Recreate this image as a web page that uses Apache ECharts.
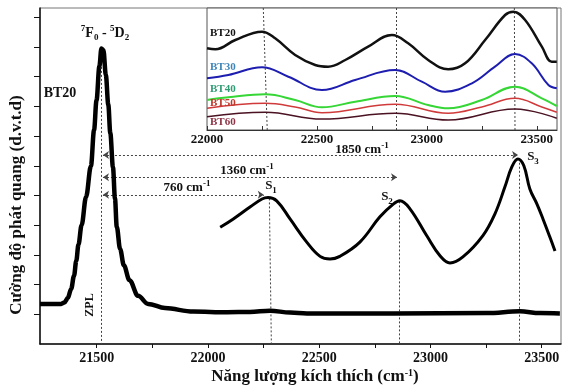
<!DOCTYPE html>
<html><head><meta charset="utf-8">
<script src="https://cdn.jsdelivr.net/npm/echarts@6/dist/echarts.min.js"></script>
<style>html,body{margin:0;padding:0;background:#fff}#c{width:570px;height:389px}</style>
</head><body><div id="c"></div>
<script>
// ---- data ----
const mainEnergy = [21245,21340,21355,21370,21385,21398,21408,21418,21432,21452,21474,21488,21499,21512,21521,21530,21541,21552,21561,21573,21582,21590,21605,21622,21647,21686,21731,21807,21933,22086,22189,22279,22369,22445,22832,23254,23402,23492,23582];
const mainIntensity = [1.35,1.35,1.4,1.55,1.85,2.3,2.8,3.35,4.0,4.95,5.99,7.2,8.2,9.35,9.95,9.9,9.05,8.05,7.1,5.95,4.9,3.95,3.2,2.65,2.15,1.62,1.35,1.21,1.09,1.07,1.08,1.12,1.06,1.03,1.03,1.04,1.10,1.04,1.03];
const excEnergy = [22055,22114,22189,22243,22270,22309,22369,22444,22504,22549,22593,22683,22773,22833,22863,22908,22983,23043,23088,23146,23236,23290,23335,23366,23393,23420,23447,23479,23506,23537,23560];
const excIntensity = [3.93,4.21,4.61,4.88,4.93,4.82,4.21,3.43,2.95,2.86,2.95,3.43,4.28,4.71,4.82,4.55,3.65,2.97,2.73,2.93,3.65,4.38,5.29,5.96,6.23,6.0,5.22,4.71,4.21,3.6,3.13];

const bt20X = [22000,22038,22129,22250,22310,22401,22492,22551,22629,22733,22841,22915,23006,23097,23174,23265,23356,23394,23447,23523,23568,23591];
const bt20Y = [8.17,8.07,9.0,9.83,9.17,7.5,6.5,6.33,7.0,8.33,9.5,8.67,7.0,6.07,6.67,9.0,11.5,11.83,11.0,8.33,6.83,6.83];
const bt30X = [22000,22097,22250,22370,22523,22674,22856,22977,23083,23205,23310,23401,23477,23553,23591];
const bt30Y = [5.17,5.5,6.27,5.33,4.0,5.0,6.0,4.83,3.83,4.67,6.33,7.6,6.67,4.5,4.17];
const bt40X = [22000,22097,22265,22401,22523,22674,22856,23006,23097,23250,23401,23523,23591];
const bt40Y = [3.0,3.27,3.57,3.0,2.27,2.83,3.4,2.5,2.17,3.0,4.33,3.17,2.4];
const bt50X = [22000,22265,22401,22523,22856,23097,23250,23401,23523,23591];
const bt50Y = [2.17,2.67,2.3,1.73,2.57,1.67,2.3,3.17,2.3,1.77];
const bt60X = [22000,22265,22523,22856,23097,23401,23591];
const bt60Y = [1.33,1.77,1.1,1.67,1.0,2.1,1.17];

const zplEnergy = 21519, zplTop = 10.0;
const peakLineTopX = [22276, 22859, 23399];
const peakLineBottomX = [22285, 22859, 23399];
const peakLineTopY = [4.9, 4.8, 6.1];
const insetLineTopX = [22256, 22860, 23398];
const insetLineBottomX = [22274, 22860, 23401];
const shiftLabels = ['760', '1360', '1850'];
const arrowStartX = 21528;
const arrowEndX = [22251, 22850, 23394];
const arrowLevel = [5.02, 5.61, 6.36];

const mainTicks = [21500,21750,22000,22250,22500,22750,23000,23250,23500];
const mainLabels = [21500,22000,22500,23000,23500];
const insetTicks = [22000,22250,22500,22750,23000,23250,23500];
const insetLabels = [22000,22500,23000,23500];
const yTicks = [1,2,3,4,5,6,7,8,9,10,11];

// ---- chart ----
const zip = (xs, ys) => xs.map((x, i) => [x, ys[i]]);
const FONT = '"Liberation Serif", "Times New Roman", serif';
const chart = echarts.init(document.getElementById('c'), null, {renderer: 'canvas'});

const vLines = peakLineTopX.map((x, i) => [
  {coord: [x, peakLineTopY[i]], symbol: 'none'},
  {coord: [peakLineBottomX[i], 0], symbol: 'none'}
]);
vLines.push([{coord: [zplEnergy, zplTop], symbol: 'none'}, {coord: [zplEnergy, 0], symbol: 'none'}]);
const arrows = arrowEndX.map((x, i) => [
  {coord: [arrowStartX, arrowLevel[i]], symbol: 'arrow'},
  {coord: [x, arrowLevel[i]], symbol: 'arrow'}
]);
const insetVLines = insetLineTopX.map((x, i) => [
  {coord: [x, 12.2], symbol: 'none'},
  {coord: [insetLineBottomX[i], 0], symbol: 'none'}
]);

function txt(x, y, text, size, extra) {
  return Object.assign({
    type: 'text', x: x, y: y, z: 100,
    style: {text: text, fill: '#111', font: 'bold ' + size + 'px ' + FONT,
      textAlign: 'center', textVerticalAlign: 'middle'}
  }, extra || {});
}
function richTxt(x, y, text, size, small) {
  const s = small || 9;
  const base = {fontSize: size, fontWeight: 'bold', fontFamily: FONT, lineHeight: 18, color: '#111'};
  return {type: 'text', x: x, y: y, z: 100,
    style: {text: text, textAlign: 'center', textVerticalAlign: 'middle', fill: '#111',
      font: 'bold ' + size + 'px ' + FONT,
      rich: {b: base,
        sup: {fontSize: s, fontWeight: 'bold', fontFamily: FONT, verticalAlign: 'top', lineHeight: 18, color: '#111'},
        sub: {fontSize: s, fontWeight: 'bold', fontFamily: FONT, verticalAlign: 'bottom', lineHeight: 18, color: '#111'}}}};
}

const shiftPos = [[187, 188], [247, 171], [362, 150]];
const graphics = [
  Object.assign(richTxt(17, 205, '{b|Cường độ phát quang (d.v.t.d)}', 17), {rotation: Math.PI / 2}),
  richTxt(315, 377, '{b|Năng lượng kích thích (cm}{sup|-1}{b|)}', 17, 10),
  richTxt(105, 33, '{sup|7}{b|F}{sub|0}{b| - }{sup|5}{b|D}{sub|2}', 14),
  txt(60, 93, 'BT20', 14),
  txt(90, 305, 'ZPL', 12, {rotation: Math.PI / 2}),
  richTxt(271, 186, '{b|S}{sub|1}', 13),
  richTxt(387, 197, '{b|S}{sub|2}', 13),
  richTxt(533, 157, '{b|S}{sub|3}', 13)
];
shiftLabels.forEach((s, i) => graphics.push(richTxt(shiftPos[i][0], shiftPos[i][1], '{b|' + s + ' cm}{sup|-1}', 13)));
const insetNames = ['BT20', 'BT30', 'BT40', 'BT50', 'BT60'];
const insetLabelColors = ['#111', '#3d85b8', '#2f9c74', '#c0392b', '#8e3446'];
const insetLabelY = [33, 67, 89, 103, 122];
insetNames.forEach((n, i) => graphics.push({
  type: 'text', x: 210, y: insetLabelY[i], z: 100,
  style: {text: n, fill: insetLabelColors[i], font: 'bold 11px ' + FONT, textAlign: 'left', textVerticalAlign: 'middle'}
}));

const axisLbl = (vals, size, margin) => ({customValues: vals, formatter: v => String(v),
  fontFamily: FONT, fontWeight: 'bold', fontSize: size, color: '#111', margin: margin});

chart.setOption({
  animation: false,
  backgroundColor: '#fff',
  grid: [
    {left: 40, right: 9, top: 8, bottom: 45, show: true, borderColor: '#777', borderWidth: 1, backgroundColor: 'transparent'},
    {left: 207, right: 13, top: 8, bottom: 259, show: true, borderColor: '#555', borderWidth: 1, backgroundColor: '#fff'}
  ],
  xAxis: [
    {gridIndex: 0, type: 'value', min: 21245, max: 23587,
      axisLine: {lineStyle: {color: '#111', width: 1.5}},
      axisTick: {customValues: mainTicks, length: 4, lineStyle: {color: '#111'}},
      axisLabel: axisLbl(mainLabels, 14, 7), splitLine: {show: false}},
    {gridIndex: 1, type: 'value', min: 22000, max: 23592,
      axisLine: {lineStyle: {color: '#333', width: 1}},
      axisTick: {customValues: insetTicks, inside: true, length: 4, lineStyle: {color: '#333'}},
      axisLabel: axisLbl(insetLabels, 13, 3), splitLine: {show: false}}
  ],
  yAxis: [
    {gridIndex: 0, type: 'value', min: 0, max: 11.31,
      axisLine: {show: true, lineStyle: {color: '#111', width: 1.5}},
      axisTick: {show: true, customValues: yTicks, length: 6, lineStyle: {color: '#111'}},
      axisLabel: {show: false}, splitLine: {show: false}},
    {gridIndex: 1, type: 'value', min: 0, max: 12.2, show: false, splitLine: {show: false}}
  ],
  series: [
    {type: 'line', xAxisIndex: 0, yAxisIndex: 0, data: zip(mainEnergy, mainIntensity),
      showSymbol: false, smooth: 0.35, smoothMonotone: 'x', lineStyle: {color: '#000', width: 4.5, join: 'round'}, z: 5,
      markLine: {silent: true, symbolSize: 6, label: {show: false},
        lineStyle: {type: [2, 2], color: '#444', width: 1}, data: vLines}},
    {type: 'line', xAxisIndex: 0, yAxisIndex: 0, data: zip(excEnergy, excIntensity),
      showSymbol: false, smooth: 0.4, lineStyle: {color: '#000', width: 3}, z: 5,
      markLine: {silent: true, symbolSize: [6, 6], label: {show: false},
        lineStyle: {type: [2, 2], color: '#444', width: 1}, data: arrows}},
    {type: 'line', xAxisIndex: 1, yAxisIndex: 1, data: zip(bt20X, bt20Y), showSymbol: false, smooth: 0.4,
      lineStyle: {color: '#111', width: 2.5}, z: 20,
      markLine: {silent: true, label: {show: false}, lineStyle: {type: [2, 2], color: '#444', width: 1}, data: insetVLines}},
    {type: 'line', xAxisIndex: 1, yAxisIndex: 1, data: zip(bt30X, bt30Y), showSymbol: false, smooth: 0.4,
      lineStyle: {color: '#1d1db0', width: 2}, z: 20},
    {type: 'line', xAxisIndex: 1, yAxisIndex: 1, data: zip(bt40X, bt40Y), showSymbol: false, smooth: 0.4,
      lineStyle: {color: '#35d635', width: 2}, z: 20},
    {type: 'line', xAxisIndex: 1, yAxisIndex: 1, data: zip(bt50X, bt50Y), showSymbol: false, smooth: 0.4,
      lineStyle: {color: '#d03a3a', width: 1.5}, z: 20},
    {type: 'line', xAxisIndex: 1, yAxisIndex: 1, data: zip(bt60X, bt60Y), showSymbol: false, smooth: 0.4,
      lineStyle: {color: '#4a1222', width: 1.5}, z: 20}
  ],
  graphic: graphics
});
</script></body></html>
